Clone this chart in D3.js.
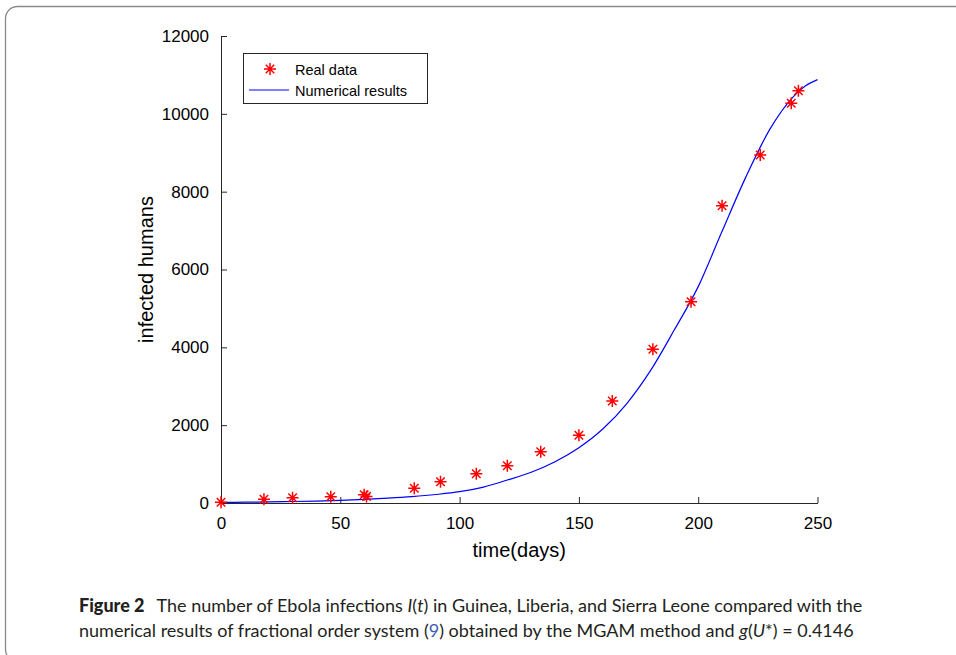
<!DOCTYPE html>
<html><head><meta charset="utf-8">
<script src="https://cdn.jsdelivr.net/npm/d3@7"></script>
<style>
html,body{margin:0;padding:0;background:#fff;}
svg{display:block;}
</style></head>
<body>
<svg id="chart" width="956" height="655"></svg>
<script>
// Real data (days, infected humans)
const realDays = [0, 18, 30, 46, 60, 61, 81, 92, 107, 120, 134, 150, 164, 181, 197, 210, 226, 239, 242];
const realInfected = [18, 95, 136, 162, 210, 170, 378, 548, 750, 958, 1318, 1740, 2621, 3949, 5172, 7639, 8941, 10270, 10594];
// Numerical results
const modelDays = [0, 10, 20, 30, 40, 50, 60, 70, 80, 90, 100, 110, 120, 130, 140, 150, 160, 170, 180, 190, 200, 210, 220, 230, 240, 245, 250];
const modelInfected = [15, 20, 28, 38, 50, 68, 92, 125, 165, 218, 290, 410, 590, 790, 1060, 1420, 1900, 2550, 3400, 4450, 5560, 6980, 8380, 9600, 10450, 10720, 10880];
const xTicks = [0, 50, 100, 150, 200, 250];
const yTicks = [0, 2000, 4000, 6000, 8000, 10000, 12000];
const legendLabels = ["Real data", "Numerical results"];

const svg = d3.select("#chart");

// outer frame
svg.append("rect").attr("x", 5.5).attr("y", 6.5).attr("width", 1000).attr("height", 655)
  .attr("rx", 12).attr("fill", "none").attr("stroke", "#8a8a8a").attr("stroke-width", 1.3);

const x = d3.scaleLinear().domain([0, 250]).range([221, 817.5]);
const y = d3.scaleLinear().domain([0, 12000]).range([503, 36]);
const axisFont = "'Liberation Sans', Arial, Helvetica, sans-serif";
const axisColor = "#262626";

// x axis
const xAxis = d3.axisBottom(x).tickValues(xTicks).tickSizeInner(-6).tickSizeOuter(0).tickPadding(14).tickFormat(d3.format("d"));
const gx = svg.append("g").attr("transform", `translate(0,${y(0)})`).call(xAxis);
gx.select(".domain").attr("stroke", axisColor);
gx.selectAll(".tick line").attr("stroke", axisColor);
gx.selectAll(".tick text").attr("font-family", axisFont).attr("font-size", 17).attr("fill", "#000").attr("dy", "0.71em");

// y axis
const yAxis = d3.axisLeft(y).tickValues(yTicks).tickSizeInner(-6).tickSizeOuter(0).tickPadding(12).tickFormat(d3.format("d"));
const gy = svg.append("g").attr("transform", `translate(${x(0)},0)`).call(yAxis);
gy.select(".domain").attr("stroke", axisColor);
gy.selectAll(".tick line").attr("stroke", axisColor);
gy.selectAll(".tick text").attr("font-family", axisFont).attr("font-size", 17).attr("fill", "#000");

// axis titles
svg.append("text").attr("x", (x(0) + x(250)) / 2).attr("y", 557).attr("text-anchor", "middle")
  .attr("font-family", axisFont).attr("font-size", 20).attr("fill", "#000").text("time(days)");
svg.append("text").attr("transform", `translate(153,${(y(0) + y(12000)) / 2}) rotate(-90)`).attr("text-anchor", "middle")
  .attr("font-family", axisFont).attr("font-size", 20).attr("fill", "#000").text("infected humans");

// model line
const modelData = modelDays.map((d, i) => ({ t: d, v: modelInfected[i] }));
const line = d3.line().x(d => x(d.t)).y(d => y(d.v)).curve(d3.curveMonotoneX);
svg.append("path").datum(modelData).attr("d", line).attr("fill", "none").attr("stroke", "#0000ff").attr("stroke-width", 1.2);

// star markers
function starPath(r) {
  const d = r * Math.SQRT1_2;
  return `M${-r},0L${r},0M0,${-r}L0,${r}M${-d},${-d}L${d},${d}M${-d},${d}L${d},${-d}`;
}
const realData = realDays.map((d, i) => ({ t: d, v: realInfected[i] }));
svg.append("g").selectAll("path").data(realData).join("path")
  .attr("transform", d => `translate(${x(d.t)},${y(d.v)})`)
  .attr("d", starPath(6)).attr("stroke", "#ff0000").attr("stroke-width", 1.5).attr("fill", "none");

// legend
const lg = svg.append("g");
lg.append("rect").attr("x", 243.5).attr("y", 53.5).attr("width", 184).attr("height", 50)
  .attr("fill", "#fff").attr("stroke", axisColor).attr("stroke-width", 1);
lg.append("path").attr("transform", "translate(270,69)").attr("d", starPath(6))
  .attr("stroke", "#ff0000").attr("stroke-width", 1.5).attr("fill", "none");
lg.append("line").attr("x1", 249).attr("x2", 289).attr("y1", 90).attr("y2", 90).attr("stroke", "#0000ff").attr("stroke-width", 1.2);
lg.selectAll("text").data(legendLabels).join("text")
  .attr("x", 295).attr("y", (d, i) => 74.5 + i * 21).attr("font-family", axisFont).attr("font-size", 14.5).attr("fill", "#000").text(d => d);

// caption
const capFont = "Lato, 'Open Sans', 'Noto Sans', sans-serif";
const cap = svg.append("g").attr("font-family", capFont).attr("font-size", 18).attr("fill", "#231f20");
const l1 = cap.append("text").attr("x", 79).attr("y", 612);
l1.append("tspan").attr("font-weight", "900").text("Figure 2");
l1.append("tspan").attr("dx", 12).text("The number of Ebola infections ");
l1.append("tspan").attr("font-style", "italic").text("I");
l1.append("tspan").text("(");
l1.append("tspan").attr("font-style", "italic").text("t");
l1.append("tspan").text(") in Guinea, Liberia, and Sierra Leone compared with the");
const l2 = cap.append("text").attr("x", 79).attr("y", 637);
l2.append("tspan").text("numerical results of fractional order system (");
l2.append("tspan").attr("fill", "#3a5fb0").text("9");
l2.append("tspan").text(") obtained by the MGAM method and ");
l2.append("tspan").attr("font-style", "italic").text("g");
l2.append("tspan").text("(");
l2.append("tspan").attr("font-style", "italic").text("U");
l2.append("tspan").text("*) = 0.4146");
</script>
</body></html>
